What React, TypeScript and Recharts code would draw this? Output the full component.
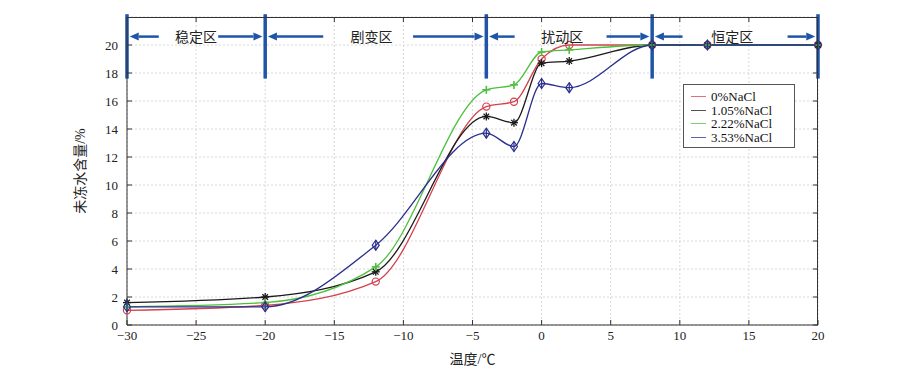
import {
  LineChart,
  Line,
  XAxis,
  YAxis,
  CartesianGrid,
  ReferenceLine,
  ReferenceDot,
  ReferenceArea,
} from "recharts";

const temps = [-30, -20, -12, -4, -2, 0, 2, 8, 12, 20];
const nacl0 = [1.05, 1.4, 3.1, 15.6, 15.95, 19.0, 20.0, 20, 20, 20];
const nacl105 = [1.6, 2.0, 3.8, 14.9, 14.45, 18.7, 18.85, 20, 20, 20];
const nacl222 = [1.3, 1.6, 4.15, 16.8, 17.15, 19.5, 19.65, 20, 20, 20];
const nacl353 = [1.3, 1.3, 5.7, 13.7, 12.75, 17.25, 16.95, 20, 20, 20];

const xTicks = [-30, -25, -20, -15, -10, -5, 0, 5, 10, 15, 20];
const yTicks = [0, 2, 4, 6, 8, 10, 12, 14, 16, 18, 20];
const xMin = -30;
const xMax = 20;
const yMax = 22;

// zones along the top of the plot
const zoneBounds = [-30, -20, -4, 8, 20];
const zoneLabels = ["稳定区", "剧变区", "扰动区", "恒定区"];
const zoneLabelX = [-25, -12.3, 1.5, 13.8];
const zoneTailLeft = [-27.7, -15.8, -1.95, 10.2];
const zoneTailRight = [-23.4, -9.3, 4.7, 17.8];
const arrowY = 20.6;
const boundLow = 17.6;
const boundHigh = 22.2;

const seriesNames = ["0%NaCl", "1.05%NaCl", "2.22%NaCl", "3.53%NaCl"];
const seriesColors = ["#d4414e", "#1a1a1a", "#4cc03c", "#2a2f8c"];
const seriesKeys = ["s0", "s1", "s2", "s3"];

const data = temps.map((t, i) => ({
  t,
  s0: nacl0[i],
  s1: nacl105[i],
  s2: nacl222[i],
  s3: nacl353[i],
}));

const FONT = "'Liberation Serif', 'Noto Sans CJK SC', serif";
const BLUE = "#1f55a8";
const AXIS = "#333";

// plot box in pixels (from the chart margins and axis sizes below)
const plotLeft = 127;
const plotTop = 17;
const plotWidth = 691;
const plotHeight = 308;

const CircleDot = (p: any) => (
  <circle key={p.index} cx={p.cx} cy={p.cy} r={3.6} fill="none" stroke={seriesColors[0]} strokeWidth={1.2} />
);

const StarDot = (p: any) => {
  const { cx, cy } = p;
  const r = 4;
  const d = r * 0.7;
  return (
    <g key={p.index} stroke={seriesColors[1]} strokeWidth={1.3}>
      <line x1={cx - r} y1={cy} x2={cx + r} y2={cy} />
      <line x1={cx} y1={cy - r} x2={cx} y2={cy + r} />
      <line x1={cx - d} y1={cy - d} x2={cx + d} y2={cy + d} />
      <line x1={cx - d} y1={cy + d} x2={cx + d} y2={cy - d} />
    </g>
  );
};

const PlusDot = (p: any) => {
  const { cx, cy } = p;
  const r = 4;
  return (
    <g key={p.index} stroke={seriesColors[2]} strokeWidth={1.6}>
      <line x1={cx - r} y1={cy} x2={cx + r} y2={cy} />
      <line x1={cx} y1={cy - r} x2={cx} y2={cy + r} />
    </g>
  );
};

const DiamondDot = (p: any) => {
  const { cx, cy } = p;
  return (
    <g key={p.index} stroke={seriesColors[3]} strokeWidth={1.2} fill="none">
      <path d={`M${cx},${cy - 5} L${cx + 3.5},${cy} L${cx},${cy + 5} L${cx - 3.5},${cy} Z`} />
      <line x1={cx} y1={cy - 5} x2={cx} y2={cy + 5} />
    </g>
  );
};

const dotRenderers = [CircleDot, StarDot, PlusDot, DiamondDot];

const Arrow = (p: any) => {
  const { x1, y1, x2, y2 } = p;
  const dir = x2 > x1 ? 1 : -1;
  const head = 9;
  const half = 4;
  return (
    <g>
      <line x1={x1} y1={y1} x2={x2 - dir * head} y2={y2} stroke={BLUE} strokeWidth={2.5} />
      <path
        d={`M${x2},${y2} L${x2 - dir * head},${y2 - half} L${x2 - dir * head},${y2 + half} Z`}
        fill={BLUE}
      />
    </g>
  );
};

// inward ticks on the top and right edges
const Frame = (p: any) => {
  const { x, y, width, height } = p;
  const tx = (t: number) => x + ((t - xMin) / (xMax - xMin)) * width;
  const ty = (t: number) => y + height - (t / yMax) * height;
  return (
    <g>
      {xTicks.map((t) => (
        <line key={`t${t}`} x1={tx(t)} y1={y} x2={tx(t)} y2={y + 5} stroke={AXIS} strokeWidth={1} />
      ))}
      {yTicks.map((t) => (
        <line key={`r${t}`} x1={x + width} y1={ty(t)} x2={x + width - 5} y2={ty(t)} stroke={AXIS} strokeWidth={1} />
      ))}
    </g>
  );
};

const LegendBox = () => (
  <div
    style={{
      position: "absolute",
      left: 683,
      top: 84,
      width: 112,
      height: 64,
      border: "1px solid #555",
      background: "#fff",
      fontFamily: FONT,
      fontSize: 13,
      color: "#111",
      padding: "5px 0 0 7px",
      boxSizing: "border-box",
      lineHeight: "13.5px",
    }}
  >
    {seriesNames.map((n, i) => (
      <div key={n} style={{ display: "flex", alignItems: "center" }}>
        <span
          style={{
            display: "inline-block",
            width: 15,
            height: 0,
            borderTop: `1.5px solid ${seriesColors[i]}`,
            marginRight: 5,
            opacity: 0.75,
          }}
        />
        {n}
      </div>
    ))}
  </div>
);

export default function App() {
  return (
    <div style={{ position: "absolute", left: 0, top: 0, width: 900, height: 371, background: "#fff" }}>
      <LineChart
        width={900}
        height={371}
        data={data}
        margin={{ top: 17, right: 82, bottom: 0, left: 0 }}
      >
        <CartesianGrid stroke="#d8d8d8" strokeDasharray="2 2" />
        <XAxis
          dataKey="t"
          type="number"
          domain={[xMin, xMax]}
          ticks={xTicks}
          height={46}
          tickSize={-5}
          tickMargin={11}
          stroke={AXIS}
          tick={{ fill: "#222", fontSize: 13, fontFamily: FONT }}
          tickFormatter={(v: number) => (v < 0 ? `\u2212${-v}` : `${v}`)}
          label={{
            value: "温度/℃",
            position: "insideBottom",
            offset: 7,
            style: { fill: "#222", fontSize: 14, fontFamily: FONT },
          }}
        />
        <YAxis
          type="number"
          domain={[0, yMax]}
          ticks={yTicks}
          width={127}
          tickSize={-5}
          tickMargin={14}
          stroke={AXIS}
          tick={{ fill: "#222", fontSize: 13, fontFamily: FONT }}
          label={{
            content: () => (
              <text
                x={80}
                y={171}
                transform="rotate(-90 80 171)"
                textAnchor="middle"
                dominantBaseline="central"
                fill="#222"
                fontSize={14}
                fontFamily={FONT}
              >
                未冻水含量/%
              </text>
            ),
          }}
        />

        <ReferenceArea
          x1={xMin}
          x2={xMax}
          y1={0}
          y2={yMax}
          ifOverflow="visible"
          shape={Frame}
        />

        {seriesKeys.map((k, i) => (
          <Line
            key={k}
            type="monotone"
            dataKey={k}
            name={seriesNames[i]}
            stroke={seriesColors[i]}
            strokeWidth={1.3}
            dot={dotRenderers[i]}
            activeDot={false}
            isAnimationActive={false}
          />
        ))}

        {zoneBounds.map((b) => (
          <ReferenceLine
            key={`b${b}`}
            segment={[
              { x: b, y: boundLow },
              { x: b, y: boundHigh },
            ]}
            stroke={BLUE}
            strokeWidth={3.5}
            ifOverflow="visible"
          />
        ))}
        {zoneLabels.map((lab, i) => (
          <ReferenceLine
            key={`al${i}`}
            segment={[
              { x: zoneTailLeft[i], y: arrowY },
              { x: zoneBounds[i] + 0.2, y: arrowY },
            ]}
            ifOverflow="visible"
            shape={Arrow}
          />
        ))}
        {zoneLabels.map((lab, i) => (
          <ReferenceLine
            key={`ar${i}`}
            segment={[
              { x: zoneTailRight[i], y: arrowY },
              { x: zoneBounds[i + 1] - 0.2, y: arrowY },
            ]}
            ifOverflow="visible"
            shape={Arrow}
          />
        ))}
        {zoneLabels.map((lab, i) => (
          <ReferenceDot
            key={`zl${i}`}
            x={zoneLabelX[i]}
            y={arrowY}
            r={1}
            fill="none"
            stroke="none"
            ifOverflow="visible"
            label={{
              value: lab,
              position: "center",
              style: { fill: "#222", fontSize: 14, fontFamily: FONT },
            }}
          />
        ))}
      </LineChart>
      {/* top and right edges of the axes box */}
      <div
        style={{
          position: "absolute",
          left: plotLeft,
          top: plotTop,
          width: plotWidth,
          height: plotHeight,
          borderTop: `1px solid ${AXIS}`,
          borderRight: `1px solid ${AXIS}`,
          boxSizing: "border-box",
          pointerEvents: "none",
        }}
      />
      <LegendBox />
    </div>
  );
}
